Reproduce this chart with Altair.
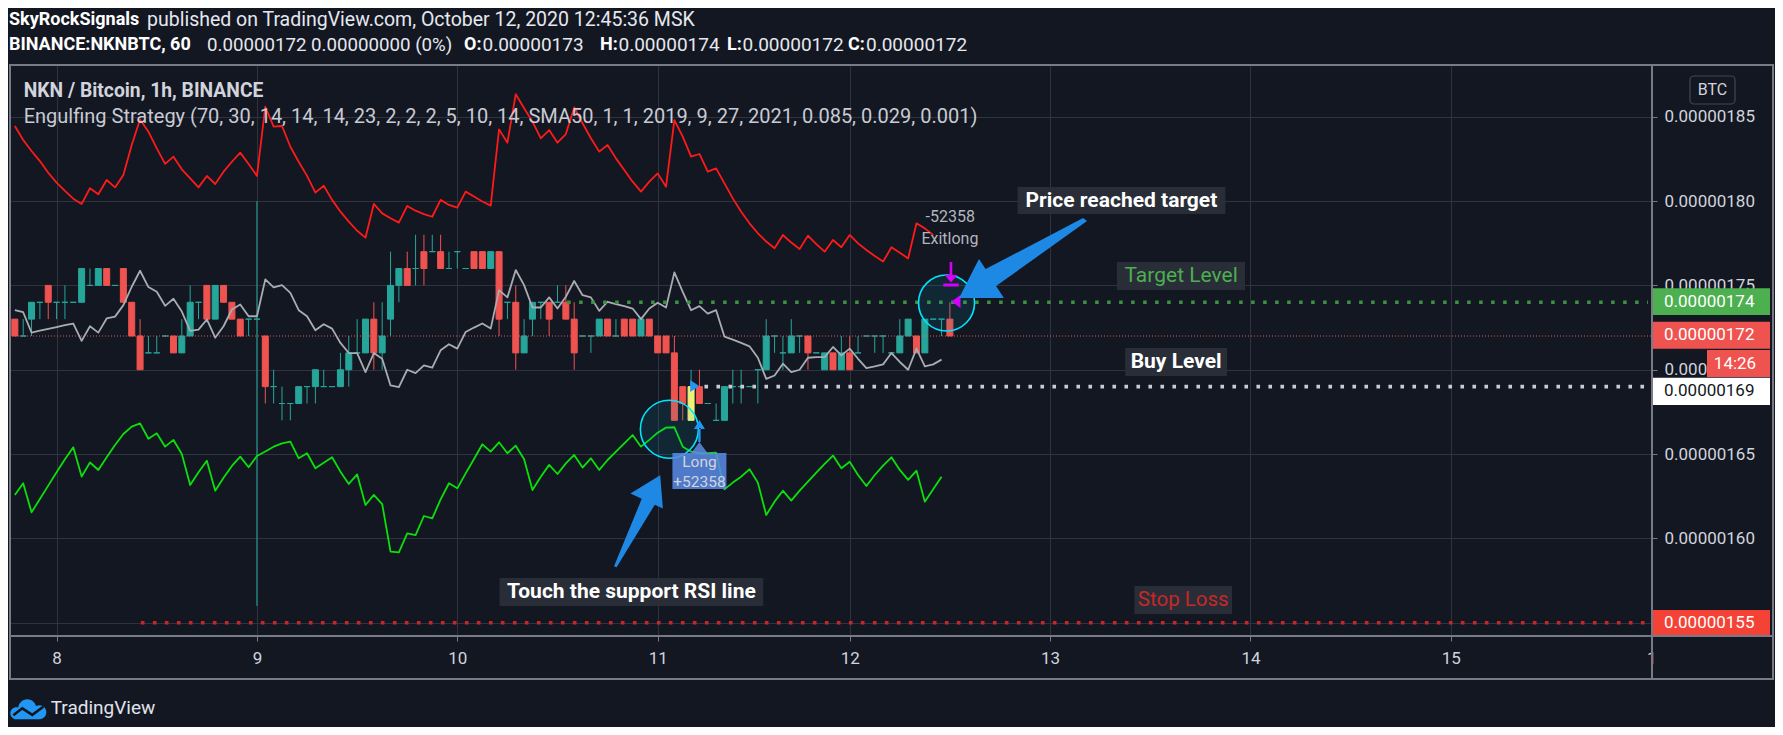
import altair as alt
import pandas as pd

FONT = "Roboto"
BG = "#131722"
GRID = "#2f3340"
FRAME = "#787b86"
AXTXT = "#d1d4dc"
UP = "#26a69a"
DOWN = "#ef5350"
ENTRY = "#eef07a"

# ---------------- data (prices in satoshi, 1e-8 BTC) ----------------
first_bar = -5
opens = [173,172,173,174,175,174,174,174,174,175,
         175,176,175,176,174,172,171,171,172,172,
         171,172,174,175,173,175,174,173,173,173,
         172,169,168,168,168,169,169,169,169,169,
         170,171,171,173,171,173,175,176,176,177,
         177,177,176,177,176,177,177,176,177,174,
         174,171,173,174,174,174,174,173,172,172,
         172,173,172,173,173,172,173,172,172,171,
         169,167,169,168,167,167,169,169,169,170,
         170,172,171,171,172,172,171,170,171,170,
         171,171,172,172,172,171,171,172,172,171,
         173,173,173]
highs = [173,173,174,174,175,174,175,174,176,176,
         176,176,175,176,174,173,172,172,172,172,
         173,175,174,175,175,175,174,173,173,180,
         172,170,169,168,169,169,170,170,169,171,
         172,173,173,174,174,177,176,177,178,178,
         178,178,177,177,176,177,177,177,177,174,
         175,173,174,174,174,175,175,174,172,172,
         173,173,173,173,173,173,173,172,172,172,
         169,170,170,168,168,169,170,170,169,170,
         173,172,172,173,172,172,171,171,171,172,
         172,172,172,172,172,171,173,173,172,173,
         173,173,174]
lows = [172,172,172,173,173,173,173,174,174,175,
        175,175,175,174,172,170,171,171,172,171,
        171,172,173,173,173,174,173,172,172,156,
        168,168,167,167,168,168,168,169,169,169,
        169,171,171,170,170,172,174,175,175,175,
        177,176,176,176,176,176,176,176,172,173,
        170,171,172,173,172,174,173,170,172,171,
        172,172,172,172,172,172,172,171,171,167,
        167,167,168,168,167,167,168,168,169,168,
        170,171,170,171,171,170,171,170,170,170,
        170,171,172,171,171,171,171,172,171,171,
        173,172,172]
closes = [172,172,174,174,174,174,174,174,176,175,
          176,175,175,174,172,170,171,171,172,171,
          172,174,174,173,175,174,173,172,173,173,
          169,169,168,168,169,169,170,169,169,170,
          171,171,173,171,172,175,176,175,176,176,
          177,176,176,177,176,176,176,177,173,174,
          171,172,174,174,173,174,173,171,172,172,
          173,172,172,172,172,173,172,171,171,167,
          168,169,168,168,167,169,169,169,169,170,
          172,172,171,172,172,171,171,171,170,171,
          170,171,172,172,172,171,172,173,171,173,
          173,173,172]
entry_bar = 76

red_band = [184.45,183.62,182.97,182.37,181.68,181.09,180.60,180.14,179.83,180.76,
            180.40,181.25,180.81,181.54,183.32,184.84,184.11,183.12,182.20,182.63,
            181.88,181.35,180.81,181.49,181.01,181.74,182.33,182.87,182.20,181.49,
            185.59,184.41,184.45,183.22,182.33,181.49,180.50,180.91,180.07,179.37,
            178.78,178.24,177.83,179.83,179.27,178.98,178.72,179.71,179.43,179.23,
            179.07,180.07,179.77,179.61,180.56,180.27,179.97,179.73,184.25,183.46,
            186.34,185.50,184.71,183.72,184.21,183.46,183.97,185.55,184.61,183.72,
            182.93,183.32,182.53,181.84,181.15,180.56,181.15,181.64,180.85,184.80,
            183.82,182.63,182.79,181.74,181.94,181.05,180.16,179.37,178.68,178.09,
            177.60,177.20,177.99,177.54,177.16,177.95,177.45,177.00,177.69,177.26,
            177.99,177.49,177.10,176.74,176.41,177.26,176.94,176.60,178.68,178.38,
            177.99]
gray_band = [173.53,173.41,172.20,172.32,172.42,172.53,172.64,172.74,171.71,172.58,
             172.20,173.04,173.15,173.83,174.92,175.87,174.90,174.62,173.79,174.21,
             173.45,172.30,172.38,172.98,171.90,172.58,173.57,173.87,173.17,173.17,
             175.36,174.88,175.02,174.56,173.53,173.17,172.34,172.70,172.44,171.59,
             170.99,170.99,169.86,170.99,170.65,169.07,168.97,170.00,169.80,170.26,
             170.12,171.15,171.51,171.25,172.24,172.50,172.74,172.44,174.72,174.29,
             175.91,175.02,173.69,173.69,174.29,173.63,174.33,175.26,174.42,174.29,
             173.49,174.03,173.89,173.77,173.63,173.00,173.63,173.97,173.69,175.77,
             174.62,173.53,173.77,173.33,173.53,171.96,171.79,171.59,171.39,170.71,
             169.46,169.66,170.36,169.86,170.00,170.71,170.75,170.75,171.35,170.85,
             171.25,170.65,170.10,170.20,170.32,170.99,170.46,170.00,171.25,170.20,
             170.32,170.60]
green_band = [162.58,163.27,161.55,162.34,163.13,163.92,164.69,165.40,163.67,164.50,
              164.06,164.81,165.54,166.19,166.63,166.82,165.91,166.23,165.44,165.84,
              165.01,163.17,163.92,164.61,162.83,163.60,164.30,164.85,164.22,164.89,
              165.15,165.44,165.64,165.74,164.75,165.05,164.16,164.49,164.81,163.96,
              163.23,163.80,161.98,162.58,162.04,159.22,159.18,160.30,160.20,161.33,
              161.19,162.32,163.27,162.97,163.86,164.71,165.58,165.15,165.70,165.05,
              165.50,164.69,162.87,163.66,164.36,163.82,164.45,164.95,164.20,164.75,
              164.06,164.65,165.14,165.64,166.13,165.44,165.84,166.27,166.57,166.59,
              165.44,165.14,165.05,165.05,165.09,162.91,163.31,163.66,164.10,163.31,
              161.39,162.18,162.83,162.24,162.83,163.37,163.90,164.42,164.91,164.16,
              164.55,163.76,163.11,163.76,164.32,164.81,164.06,163.47,164.02,162.18,
              162.91,163.66]

day_ticks = [0, 24, 48, 72, 95, 119, 143, 167, 191]
day_labels = ["8", "9", "10", "11", "12", "13", "14", "15", "1"]
price_ticks = [155, 160, 165, 170, 175, 180, 185]

last_price = 172
level_names = ["Target Level", "Buy Level", "Stop Loss"]
level_prices = [174, 169, 155]
level_start_bar = [61.15, 77.6, 10.1]
level_colors = ["#3f8f43", "#c9cbd1", "#c62828"]

X_DOMAIN = [-5.7, 191.1]
Y_DOMAIN = [154.217, 188.065]
W, H = 1643, 571

xs = alt.Scale(domain=X_DOMAIN, nice=False, zero=False)
ys = alt.Scale(domain=Y_DOMAIN, nice=False, zero=False)

xexpr = "".join(f"datum.value == {v} ? '{l}' : " for v, l in zip(day_ticks, day_labels)) + "''"
xaxis = alt.Axis(values=day_ticks, labelExpr=xexpr, grid=True, gridColor=GRID, gridWidth=1,
                 tickSize=5, tickColor=FRAME, domain=False, labelColor=AXTXT, labelFontSize=17,
                 labelFont=FONT, labelPadding=17, labelBaseline="middle", labelFlush=False,
                 labelOverlap=False, title=None)
yaxis = alt.Axis(orient="right", values=price_ticks, labelExpr="'0.00000' + datum.value",
                 grid=True, gridColor=GRID, gridWidth=1, tickSize=5, tickColor=FRAME, domain=False,
                 labelColor=AXTXT, labelFontSize=17, labelFont=FONT, labelPadding=7,
                 labelBaseline="middle", labelFlush=False, labelOverlap=False, title=None)


def X(f):
    return alt.X(f, type="quantitative", scale=xs, axis=xaxis)


def Y(f):
    return alt.Y(f, type="quantitative", scale=ys, axis=yaxis)


one = pd.DataFrame({"k": [0]})

# ---------------- candles ----------------
idx = list(range(first_bar, first_bar + len(opens)))
cdf = pd.DataFrame({"i": idx, "open": opens, "high": highs, "low": lows, "close": closes})
cdf["col"] = [UP if c >= o else DOWN for o, c in zip(opens, closes)]
cdf["wick"] = cdf["col"]
cdf.loc[cdf["i"] == entry_bar, "col"] = ENTRY
cdf["x0"] = cdf["i"] - 0.36
cdf["x1"] = cdf["i"] + 0.36

wicks = alt.Chart(cdf).mark_rule(strokeWidth=1).encode(
    x=X("i"), y=Y("low"), y2="high", color=alt.Color("wick:N", scale=None))
bodies = alt.Chart(cdf).mark_rect(strokeWidth=1).encode(
    x=X("x0"), x2="x1", y=Y("open"), y2="close",
    color=alt.Color("col:N", scale=None), stroke=alt.Stroke("col:N", scale=None))

cur_line = alt.Chart(pd.DataFrame({"p": [last_price]})).mark_rule(
    color=DOWN, strokeWidth=1, strokeDash=[1, 2]).encode(
    x=alt.value(0), x2=alt.value(W), y=Y("p"))


def band(vals, color):
    d = pd.DataFrame({"i": list(range(first_bar, first_bar + len(vals))), "v": vals})
    return alt.Chart(d).mark_line(color=color, strokeWidth=1.8, strokeJoin="round").encode(
        x=X("i"), y=Y("v"))


red_l = band(red_band, "#ff1a1a")
gray_l = band(gray_band, "#a9acb3")
green_l = band(green_band, "#0be00b")

ldf = pd.DataFrame({"p": level_prices, "s": level_start_bar, "c": level_colors})
levels = alt.Chart(ldf).mark_rule(strokeWidth=3.6, strokeDash=[3.6, 8.4], strokeCap="butt").encode(
    x=X("s"), x2=alt.value(W - 4), y=Y("p"), color=alt.Color("c:N", scale=None))

# ---------------- strategy markers ----------------
circ_df = pd.DataFrame({"i": [106.6, 73.4], "p": [173.96, 166.47], "s": [3136, 3364]})
circles = alt.Chart(circ_df).mark_point(shape="circle", fill="#00bcd4", fillOpacity=0.1,
                                        stroke="#00e5ff", strokeWidth=1.6, opacity=1).encode(
    x=X("i"), y=Y("p"), size=alt.Size("s:Q", scale=None))

S = 40000  # custom path scale: 1 unit = 100 px


def shape_pt(path, i, p, color, filled=True, sw=0):
    d = pd.DataFrame({"i": [i], "p": [p]})
    if filled:
        m = alt.Chart(d).mark_point(shape=path, size=S, filled=True, fill=color, opacity=1, strokeWidth=0)
    else:
        m = alt.Chart(d).mark_point(shape=path, size=S, filled=False, stroke=color, strokeWidth=sw,
                                    opacity=1, strokeJoin="round")
    return m.encode(x=X("i"), y=Y("p"))


entry_tri = shape_pt("M-0.04,-0.06 L0.05,0 L-0.04,0.06 Z", 76.37, 169.04, "#2196f3")
entry_arrow = shape_pt("M0,-0.22 L-0.055,-0.13 L0.055,-0.13 Z M-0.012,-0.14 L0.012,-0.14 L0.012,0 L-0.012,0 Z",
                       77.0, 165.72, "#2196f3")
long_box = alt.Chart(pd.DataFrame({"i": [77.0], "p": [164.29]})).mark_point(
    shape="M-0.27,-0.13 L-0.08,-0.13 L0,-0.24 L0.08,-0.13 L0.27,-0.13 L0.27,0.23 L-0.27,0.23 Z",
    size=S, filled=True, fill="#5b8be6", opacity=0.85, strokeWidth=0).encode(x=X("i"), y=Y("p"))
exit_arrow = shape_pt("M-0.013,-0.23 L0.013,-0.23 L0.013,-0.09 L-0.013,-0.09 Z "
                      "M-0.065,-0.1 L0.065,-0.1 L0,-0.025 Z "
                      "M-0.077,-0.015 L0.077,-0.015 L0.077,0.015 L-0.077,0.015 Z",
                      107.13, 175.02, "#d500f9")
exit_tri = shape_pt("M0.045,-0.065 L-0.045,0 L0.045,0.065 Z", 107.73, 174.05, "#d500f9")

arrow1 = shape_pt("M0,0 L0.199,-0.39 L0.265,-0.29 L1.24,-0.8 L1.28,-0.77 L0.37,-0.12 L0.448,0 Z",
                  108.1, 174.25, "#1e88e5")
arrow2 = shape_pt("M0,0 L-0.298,0.183 L-0.184,0.236 L-0.462,0.91 L-0.436,0.92 L-0.054,0.295 L0.027,0.333 Z",
                  72.3, 163.75, "#1e88e5")


def dtext(s, i, p, size, color, bold=False, align="center"):
    d = pd.DataFrame({"i": [i], "p": [p]})
    return alt.Chart(d).mark_text(text=s, align=align, baseline="middle", font=FONT, fontSize=size,
                                  fontWeight="bold" if bold else "normal", color=color).encode(
        x=X("i"), y=Y("p"))


def dbox(i0, i1, p0, p1, color="#2a2e39"):
    d = pd.DataFrame({"a": [i0], "b": [i1], "c": [p0], "d": [p1]})
    return alt.Chart(d).mark_rect(color=color, opacity=0.95).encode(x=X("a"), x2="b", y=Y("c"), y2="d")


def ptext(s, x, y, size, color, bold=False, align="left"):
    return alt.Chart(one).mark_text(text=s, align=align, baseline="middle", font=FONT, fontSize=size,
                                    fontWeight="bold" if bold else "normal", color=color).encode(
        x=alt.value(x), y=alt.value(y))


annotations = [
    dbox(115.1, 140.0, 180.83, 179.23), dtext("Price reached target", 127.55, 180.03, 21, "#ffffff", True),
    dbox(53.06, 84.64, 157.65, 155.99), dtext("Touch the support RSI line", 68.85, 156.82, 21, "#ffffff", True),
    dbox(127.0, 142.35, 176.39, 174.72), dtext("Target Level", 134.7, 175.55, 21, "#4caf50"),
    dbox(128.0, 140.2, 171.29, 169.63), dtext("Buy Level", 134.1, 170.46, 21, "#ffffff", True),
    dbox(129.1, 140.8, 157.18, 155.52), dtext("Stop Loss", 134.95, 156.35, 20.5, "#c62828"),
    dtext("-52358", 107.05, 179.05, 16, "#b2b5be"), dtext("Exitlong", 107.0, 177.75, 16, "#b2b5be"),
    dtext("Long", 77.0, 164.52, 15.5, "#d1d4dc"), dtext("+52358", 77.0, 163.33, 15.5, "#d1d4dc"),
]

# ---------------- price-axis badges ----------------
badge_lo = [173.25, 171.25, 167.91, 154.22]
badge_hi = [174.83, 172.85, 169.53, 155.76]
badge_txt_p = [174.04, 172.05, 168.72, 154.99]
badge_txt = ["0.00000174", "0.00000172", "0.00000169", "0.00000155"]
badge_fill = ["#4caf50", "#ef5350", "#ffffff", "#f44336"]
badge_ink = ["#ffffff", "#ffffff", "#131722", "#ffffff"]
bdf = pd.DataFrame({"lo": badge_lo, "hi": badge_hi, "tp": badge_txt_p, "t": badge_txt,
                    "f": badge_fill, "k": badge_ink})
badges = alt.Chart(bdf).mark_rect().encode(
    x=alt.value(W), x2=alt.value(W + 118), y=Y("lo"), y2="hi", color=alt.Color("f:N", scale=None))
badge_text = alt.Chart(bdf).mark_text(align="left", baseline="middle", font=FONT, fontSize=17).encode(
    x=alt.value(W + 12), y=Y("tp"), text="t:N", color=alt.Color("k:N", scale=None))
timer_box = alt.Chart(pd.DataFrame({"lo": [169.57], "hi": [171.17]})).mark_rect(color="#ef5350").encode(
    x=alt.value(W + 55), x2=alt.value(W + 118), y=Y("lo"), y2="hi")
timer_txt = dtext("14:26", 0, 170.33, 17, "#ffffff").encode(x=alt.value(W + 83))

# ---------------- frame ----------------
def hrule(y, x0, x1):
    return alt.Chart(one).mark_rule(color=FRAME, strokeWidth=2).encode(
        x=alt.value(x0), x2=alt.value(x1), y=alt.value(y))


def vrule(x, y0, y1):
    return alt.Chart(one).mark_rule(color=FRAME, strokeWidth=2).encode(
        x=alt.value(x), y=alt.value(y0), y2=alt.value(y1))


frame = [hrule(0, 0, 1765), hrule(H, 0, 1765), hrule(614, 0, 1765),
         vrule(1, 0, 614), vrule(W, 0, 614), vrule(1764, 0, 614)]

btc_box = alt.Chart(one).mark_rect(fill=BG, stroke="#434651", strokeWidth=1.2, cornerRadius=4).encode(
    x=alt.value(1681), x2=alt.value(1726), y=alt.value(11), y2=alt.value(39))
btc_txt = ptext("BTC", 1703.5, 25, 16, AXTXT, align="center")

# ---------------- header / titles ----------------
HB, HV = 18, 19
hdr = [
    ptext("SkyRockSignals", 0, -45, HB, "#ffffff", True),
    ptext("published on TradingView.com, October 12, 2020 12:45:36 MSK", 138, -45, 19.5, "#e6e8ee"),
    ptext("BINANCE:NKNBTC, 60", 0, -20.5, HB, "#ffffff", True),
    ptext("0.00000172 0.00000000 (0%)", 198, -20.5, 18.7, "#e6e8ee"),
    ptext("O:", 455, -20.5, HB, "#ffffff", True), ptext("0.00000173", 473.5, -20.5, HV, "#e6e8ee"),
    ptext("H:", 591, -20.5, HB, "#ffffff", True), ptext("0.00000174", 609.5, -20.5, HV, "#e6e8ee"),
    ptext("L:", 718, -20.5, HB, "#ffffff", True), ptext("0.00000172", 733.5, -20.5, HV, "#e6e8ee"),
    ptext("C:", 839, -20.5, HB, "#ffffff", True), ptext("0.00000172", 857, -20.5, HV, "#e6e8ee"),
    ptext("NKN / Bitcoin, 1h, BINANCE", 14.7, 25.7, 19.3, "#d1d4dc", True),
    ptext("Engulfing Strategy (70, 30, 14, 14, 14, 23, 2, 2, 2, 5, 10, 14, SMA50, 1, 1, 2019, 9, 27, "
          "2021, 0.085, 0.029, 0.001)", 14.7, 51.7, 20, "#c8cbd3"),
]

cloud = alt.Chart(one).mark_point(
    shape="M-0.18,0.03 A0.06,0.06 0 1 0 -0.06,0.03 A0.06,0.06 0 1 0 -0.18,0.03 Z "
          "M-0.1,-0.02 A0.09,0.09 0 1 0 0.08,-0.02 A0.09,0.09 0 1 0 -0.1,-0.02 Z "
          "M0.04,0.02 A0.07,0.07 0 1 0 0.18,0.02 A0.07,0.07 0 1 0 0.04,0.02 Z "
          "M-0.12,0.03 L-0.12,0.09 L0.11,0.09 L0.11,0.03 Z",
    size=S, filled=True, fill="#2196f3", opacity=1, strokeWidth=0).encode(
    x=alt.value(19.3), y=alt.value(645.3))
cloud_line = alt.Chart(one).mark_point(
    shape="M-0.15,0.05 L-0.06,-0.02 L0.04,0.045 L0.15,-0.035", size=S, filled=False,
    stroke=BG, strokeWidth=2.6, opacity=1).encode(x=alt.value(19.3), y=alt.value(645.3))
tv_txt = ptext("TradingView", 41.7, 643.3, 19, "#e0e3eb")

layers = ([wicks, bodies, cur_line, red_l, gray_l, green_l, levels, circles,
           entry_tri, entry_arrow, long_box, exit_arrow, exit_tri, arrow1, arrow2]
          + annotations
          + [badges, badge_text, timer_box, timer_txt] + frame + [btc_box, btc_txt]
          + hdr + [cloud, cloud_line, tv_txt])

chart = alt.layer(*layers).properties(
    width=W, height=H,
    autosize=alt.AutoSizeParams(type="none"),
    padding={"left": 1, "top": 57, "right": 123, "bottom": 91},
).configure(background=BG, font=FONT).configure_view(strokeWidth=0)

chart.save("out.html", embed_options={"renderer": "svg", "actions": False})
